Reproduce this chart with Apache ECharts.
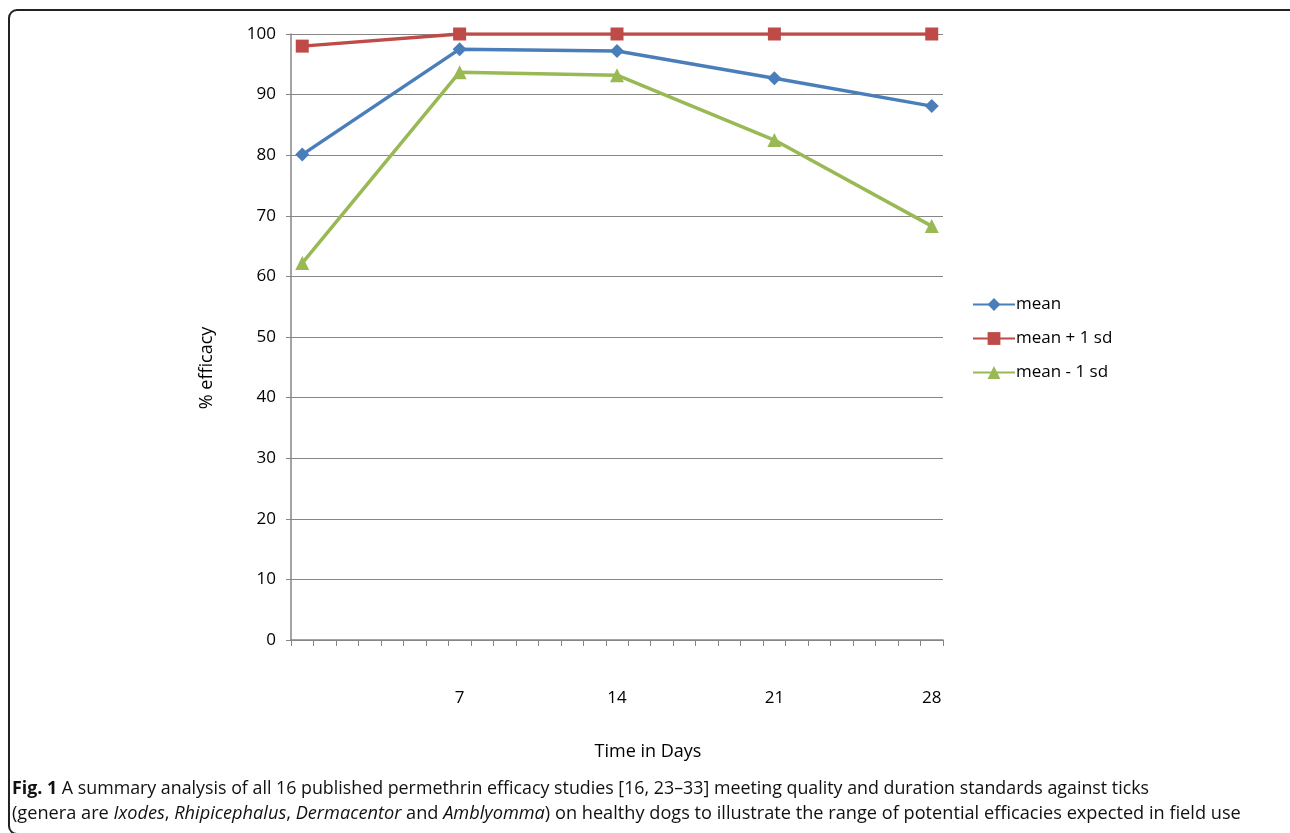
<!DOCTYPE html>
<html>
<head>
<meta charset="utf-8">
<script src="https://cdn.jsdelivr.net/npm/echarts@6/dist/echarts.min.js"></script>
<style>
html,body{margin:0;padding:0;background:#fff;}
#chart{width:1290px;height:833px;}
</style>
</head>
<body>
<div id="chart"></div>
<script>
const days = ['0','1','2','3','4','5','6','7','8','9','10','11','12','13','14','15','16','17','18','19','20','21','22','23','24','25','26','27','28'];
const shownDays = ['7','14','21','28'];
const measuredDays = ['0','7','14','21','28'];
const meanVals = [80.1, 97.5, 97.2, 92.7, 88.1];
const plusSdVals = [98.0, 100, 100, 100, 100];
const minusSdVals = [62.2, 93.7, 93.2, 82.5, 68.3];
const yTicks = [0,10,20,30,40,50,60,70,80,90,100];

function toSeries(vals){
  return days.map(d => { const i = measuredDays.indexOf(d); return i >= 0 ? vals[i] : null; });
}

const FONT = 'Open Sans';
const chart = echarts.init(document.getElementById('chart'));
const mk = (name, color, symbol, size, vals) => ({
  name, type: 'line', data: toSeries(vals), connectNulls: true,
  symbol, symbolSize: size,
  lineStyle: {color, width: 3.5},
  itemStyle: {color},
  emphasis: {disabled: true},
  z: 3
});

chart.setOption({
  animation: false,
  grid: {left: 291, right: 347, top: 34, bottom: 193, containLabel: false},
  xAxis: {
    type: 'category', data: days, boundaryGap: true,
    axisLine: {lineStyle: {color: '#868686', width: 1.5}},
    axisTick: {show: true, length: 6, interval: 0, lineStyle: {color: '#868686'}},
    axisLabel: {
      interval: 0, margin: 50, color: '#000', fontFamily: FONT, fontSize: 17,
      formatter: v => shownDays.indexOf(v) >= 0 ? v : ''
    },
    splitLine: {show: false}
  },
  yAxis: {
    type: 'value', min: yTicks[0], max: yTicks[yTicks.length-1], interval: 10,
    axisLine: {show: true, lineStyle: {color: '#868686', width: 1.5}},
    axisTick: {show: true, length: 5, lineStyle: {color: '#868686'}},
    axisLabel: {margin: 15, color: '#000', fontFamily: FONT, fontSize: 17},
    splitLine: {lineStyle: {color: '#868686', width: 1}}
  },
  legend: {
    orient: 'vertical', left: 967, top: 291, itemGap: 17,
    itemWidth: 42, itemHeight: 16,
    textStyle: {fontFamily: FONT, fontSize: 17, color: '#000', padding: [0,0,0,-4]},
    data: ['mean', 'mean + 1 sd', 'mean - 1 sd']
  },
  series: [
    mk('mean', '#4a7ebb', 'diamond', 14, meanVals),
    mk('mean + 1 sd', '#be4b48', 'rect', 13, plusSdVals),
    mk('mean - 1 sd', '#98b954', 'triangle', 14, minusSdVals)
  ],
  graphic: [
    {type: 'rect', shape: {x: 9, y: 10, width: 1292, height: 824, r: 8},
     style: {fill: null, stroke: '#222', lineWidth: 2}, silent: true},
    {type: 'text', x: 207, y: 368, rotation: Math.PI/2,
     style: {text: '% efficacy', fontFamily: FONT, fontSize: 18, fill: '#000', align: 'center', verticalAlign: 'middle'}},
    {type: 'text', x: 648, y: 752,
     style: {text: 'Time in Days', fontFamily: FONT, fontSize: 18, fill: '#000', align: 'center', verticalAlign: 'middle'}},
    {type: 'text', x: 12, y: 789, scaleX: 0.99,
     style: {
       text: '{b|Fig. 1} A summary analysis of all 16 published permethrin efficacy studies [16, 23\u201333] meeting quality and duration standards against ticks',
       fontFamily: FONT, fontSize: 18, fill: '#111', verticalAlign: 'middle',
       rich: {b: {fontWeight: 'bold', fontFamily: FONT, fontSize: 18, fill: '#111'}}
     }},
    {type: 'text', x: 12, y: 814, scaleX: 1.01,
     style: {
       text: '(genera are {i|Ixodes}, {i|Rhipicephalus}, {i|Dermacentor} and {i|Amblyomma}) on healthy dogs to illustrate the range of potential efficacies expected in field use',
       fontFamily: FONT, fontSize: 18, fill: '#111', verticalAlign: 'middle',
       rich: {i: {fontStyle: 'italic', fontFamily: FONT, fontSize: 18, fill: '#111'}}
     }}
  ]
});
</script>
</body>
</html>
